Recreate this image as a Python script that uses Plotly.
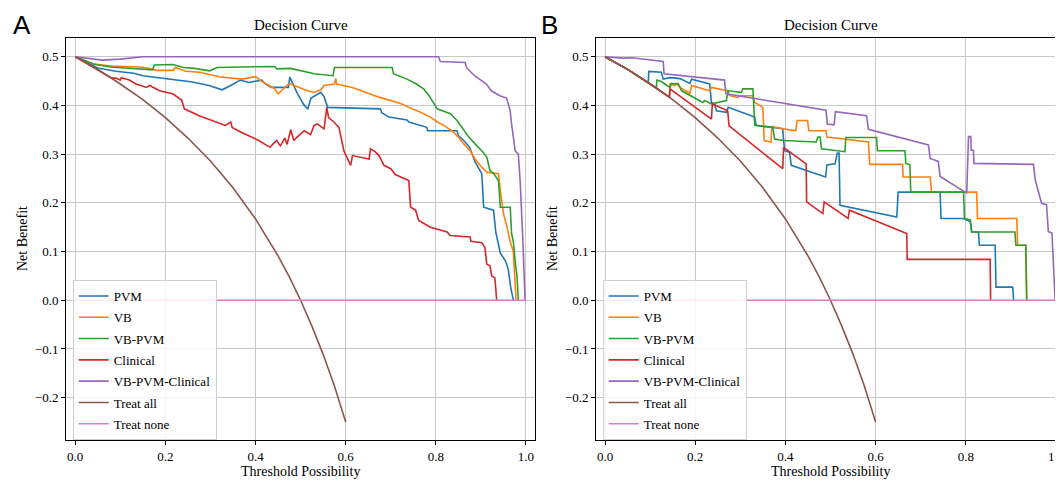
import plotly.graph_objects as go

# page body has an 8px margin: the figure is sized so that page pixels match the 1063x482 frame
OFF = 8
W, H = 1063 - OFF, 482 - OFF

names = ["PVM", "VB", "VB-PVM", "Clinical", "VB-PVM-Clinical", "Treat all", "Treat none"]
colors = ["#1f77b4", "#ff7f0e", "#2ca02c", "#d62728", "#9467bd", "#8c564b", "#e377c2"]

# ---- reference curves (same in both panels) ----
treat_all_x = [0.0, 0.05, 0.1, 0.15, 0.2, 0.25, 0.3, 0.35, 0.4, 0.425, 0.45, 0.475, 0.5, 0.525, 0.55, 0.575, 0.6]
treat_all_y = [0.5, 0.474, 0.444, 0.412, 0.375, 0.333, 0.286, 0.231, 0.167, 0.130, 0.091, 0.048, 0.0, -0.053, -0.111, -0.176, -0.25]
treat_none_x = [0.0, 1.0]
treat_none_y = [0.0, 0.0]

# ---- Panel A ----
a_pvm_x = [0, 0.05, 0.09, 0.13, 0.15, 0.19, 0.225, 0.26, 0.297, 0.326, 0.345, 0.366, 0.385, 0.414, 0.42, 0.435, 0.473, 0.476,
           0.485, 0.493, 0.508, 0.516, 0.523, 0.545, 0.552, 0.56, 0.677, 0.68, 0.696, 0.736, 0.74, 0.78, 0.782, 0.847, 0.85,
           0.862, 0.875, 0.887, 0.902, 0.906, 0.928, 0.933, 0.943, 0.955, 0.961, 0.966, 0.972]
a_pvm_y = [0.5, 0.477, 0.470, 0.466, 0.461, 0.456, 0.453, 0.448, 0.441, 0.432, 0.441, 0.452, 0.447, 0.452, 0.445, 0.437, 0.437, 0.458,
           0.440, 0.424, 0.400, 0.393, 0.415, 0.427, 0.418, 0.396, 0.393, 0.385, 0.376, 0.370, 0.366, 0.355, 0.348, 0.348, 0.338,
           0.328, 0.314, 0.284, 0.260, 0.191, 0.185, 0.140, 0.097, 0.080, 0.062, 0.027, 0.0]

a_vb_x = [0, 0.04, 0.08, 0.144, 0.17, 0.18, 0.217, 0.222, 0.245, 0.277, 0.319, 0.37, 0.40, 0.413, 0.443, 0.45, 0.455, 0.473,
          0.478, 0.515, 0.53, 0.545, 0.552, 0.575, 0.578, 0.58, 0.615, 0.674, 0.725, 0.74, 0.766, 0.788, 0.803, 0.818, 0.839,
          0.85, 0.862, 0.876, 0.887, 0.898, 0.913, 0.939, 0.943, 0.95, 0.958, 0.965, 0.972, 0.975, 0.978]
a_vb_y = [0.5, 0.485, 0.481, 0.479, 0.475, 0.472, 0.472, 0.478, 0.470, 0.468, 0.459, 0.454, 0.459, 0.450, 0.434, 0.424, 0.428, 0.444,
          0.444, 0.430, 0.427, 0.432, 0.441, 0.444, 0.455, 0.444, 0.437, 0.417, 0.403, 0.396, 0.386, 0.376, 0.366, 0.359, 0.345,
          0.335, 0.321, 0.307, 0.290, 0.277, 0.263, 0.260, 0.226, 0.178, 0.150, 0.120, 0.100, 0.040, 0.0]

a_vbpvm_x = [0, 0.04, 0.078, 0.13, 0.172, 0.175, 0.217, 0.24, 0.265, 0.298, 0.315, 0.443, 0.447, 0.478, 0.53, 0.572, 0.575,
             0.703, 0.706, 0.736, 0.755, 0.773, 0.785, 0.803, 0.832, 0.847, 0.862, 0.873, 0.887, 0.902, 0.913, 0.92, 0.928,
             0.939, 0.943, 0.965, 0.968, 0.972, 0.976, 0.98, 0.983]
a_vbpvm_y = [0.5, 0.485, 0.479, 0.476, 0.473, 0.483, 0.484, 0.478, 0.476, 0.471, 0.478, 0.480, 0.475, 0.476, 0.465, 0.461, 0.478,
             0.478, 0.465, 0.454, 0.445, 0.434, 0.420, 0.393, 0.383, 0.369, 0.348, 0.335, 0.321, 0.307, 0.294, 0.267, 0.260,
             0.246, 0.191, 0.191, 0.137, 0.120, 0.080, 0.050, 0.0]

a_clin_x = [0, 0.04, 0.081, 0.09, 0.1, 0.102, 0.12, 0.135, 0.15, 0.158, 0.165, 0.187, 0.216, 0.236, 0.242, 0.275, 0.333, 0.345,
            0.348, 0.368, 0.407, 0.432, 0.44, 0.447, 0.455, 0.465, 0.47, 0.478, 0.485, 0.49, 0.508, 0.522, 0.53, 0.537, 0.552,
            0.558, 0.562, 0.575, 0.585, 0.596, 0.611, 0.615, 0.652, 0.655, 0.665, 0.674, 0.685, 0.70, 0.71, 0.74, 0.744, 0.755,
            0.762, 0.775, 0.788, 0.825, 0.832, 0.876, 0.878, 0.902, 0.909, 0.913, 0.92, 0.924, 0.931, 0.935]
a_clin_y = [0.5, 0.479, 0.456, 0.456, 0.452, 0.457, 0.452, 0.444, 0.440, 0.437, 0.441, 0.430, 0.424, 0.411, 0.393, 0.379, 0.359, 0.366,
            0.355, 0.345, 0.328, 0.314, 0.322, 0.328, 0.317, 0.333, 0.320, 0.350, 0.328, 0.333, 0.348, 0.340, 0.359, 0.362, 0.352,
            0.396, 0.375, 0.365, 0.355, 0.307, 0.277, 0.297, 0.290, 0.311, 0.305, 0.297, 0.277, 0.270, 0.258, 0.246, 0.191, 0.185,
            0.164, 0.157, 0.150, 0.140, 0.133, 0.130, 0.121, 0.118, 0.108, 0.074, 0.071, 0.050, 0.046, 0.0]

a_all_x = [0, 0.03, 0.06, 0.1, 0.12, 0.15, 0.806, 0.81, 0.865, 0.868, 0.878, 0.886, 0.912, 0.923, 0.942, 0.957, 0.965, 0.968,
           0.976, 0.983, 0.987, 0.99, 0.993, 0.998]
a_all_y = [0.5, 0.497, 0.493, 0.495, 0.497, 0.5, 0.5, 0.490, 0.488, 0.478, 0.468, 0.461, 0.444, 0.430, 0.420, 0.415, 0.389, 0.362,
           0.307, 0.300, 0.246, 0.165, 0.124, 0.0]

# ---- Panel B ----
b_pvm_x = [0, 0.05, 0.096, 0.097, 0.125, 0.129, 0.144, 0.166, 0.188, 0.192, 0.232, 0.236, 0.243, 0.247, 0.269, 0.273, 0.332,
           0.335, 0.394, 0.398, 0.409, 0.413, 0.489, 0.492, 0.51, 0.515, 0.519, 0.521, 0.647, 0.65, 0.743, 0.745, 0.795, 0.81,
           0.813, 0.828, 0.83, 0.865, 0.867, 0.904, 0.906]
b_pvm_y = [0.5, 0.474, 0.447, 0.470, 0.468, 0.454, 0.457, 0.455, 0.445, 0.454, 0.444, 0.406, 0.403, 0.389, 0.386, 0.396, 0.376,
           0.359, 0.352, 0.307, 0.304, 0.277, 0.253, 0.278, 0.280, 0.302, 0.302, 0.195, 0.171, 0.222, 0.222, 0.168, 0.168, 0.161,
           0.140, 0.140, 0.113, 0.113, 0.027, 0.027, 0.0]

b_vb_x = [0, 0.05, 0.1, 0.143, 0.144, 0.155, 0.158, 0.166, 0.188, 0.192, 0.232, 0.236, 0.272, 0.276, 0.295, 0.297, 0.328, 0.332,
          0.35, 0.353, 0.368, 0.37, 0.394, 0.423, 0.426, 0.449, 0.452, 0.49, 0.492, 0.584, 0.587, 0.66, 0.661, 0.721, 0.724,
          0.824, 0.826, 0.913, 0.915, 0.933, 0.935]
b_vb_y = [0.5, 0.474, 0.444, 0.417, 0.444, 0.441, 0.445, 0.437, 0.425, 0.441, 0.430, 0.437, 0.430, 0.420, 0.416, 0.420, 0.420, 0.406,
          0.396, 0.328, 0.325, 0.357, 0.352, 0.348, 0.369, 0.369, 0.348, 0.348, 0.335, 0.325, 0.279, 0.279, 0.253, 0.253, 0.222,
          0.222, 0.168, 0.168, 0.113, 0.113, 0.0]

b_vbpvm_x = [0, 0.05, 0.114, 0.115, 0.125, 0.144, 0.147, 0.155, 0.162, 0.17, 0.217, 0.221, 0.236, 0.269, 0.273, 0.302, 0.306,
             0.328, 0.332, 0.372, 0.376, 0.396, 0.468, 0.472, 0.477, 0.48, 0.532, 0.534, 0.602, 0.604, 0.665, 0.667, 0.676,
             0.678, 0.795, 0.797, 0.81, 0.813, 0.909, 0.911, 0.933, 0.935]
b_vbpvm_y = [0.5, 0.474, 0.436, 0.452, 0.449, 0.437, 0.445, 0.444, 0.445, 0.430, 0.406, 0.410, 0.403, 0.410, 0.430, 0.427, 0.434,
             0.434, 0.359, 0.355, 0.331, 0.328, 0.325, 0.335, 0.335, 0.311, 0.305, 0.334, 0.334, 0.307, 0.307, 0.281, 0.278,
             0.222, 0.222, 0.168, 0.165, 0.140, 0.140, 0.113, 0.113, 0.0]

b_clin_x = [0, 0.05, 0.1, 0.143, 0.144, 0.236, 0.238, 0.269, 0.272, 0.275, 0.394, 0.396, 0.446, 0.447, 0.483, 0.486, 0.539,
            0.542, 0.669, 0.67, 0.854, 0.855]
b_clin_y = [0.5, 0.474, 0.444, 0.417, 0.434, 0.372, 0.403, 0.389, 0.389, 0.358, 0.270, 0.314, 0.280, 0.202, 0.178, 0.202, 0.168,
            0.185, 0.137, 0.084, 0.084, 0.0]

b_all_x = [0, 0.04, 0.06, 0.1, 0.129, 0.131, 0.188, 0.265, 0.268, 0.49, 0.493, 0.508, 0.511, 0.58, 0.584, 0.717, 0.721, 0.739,
           0.743, 0.802, 0.806, 0.811, 0.812, 0.817, 0.818, 0.95, 0.954, 0.961, 0.968, 0.979, 0.983, 0.991, 0.998]
b_all_y = [0.5, 0.497, 0.498, 0.494, 0.490, 0.465, 0.459, 0.452, 0.424, 0.390, 0.362, 0.360, 0.387, 0.379, 0.351, 0.319, 0.291, 0.285,
           0.254, 0.220, 0.336, 0.336, 0.308, 0.308, 0.281, 0.279, 0.247, 0.223, 0.199, 0.196, 0.141, 0.138, 0.0]

panels = {
    "A": [(a_pvm_x, a_pvm_y), (a_vb_x, a_vb_y), (a_vbpvm_x, a_vbpvm_y), (a_clin_x, a_clin_y), (a_all_x, a_all_y),
          (treat_all_x, treat_all_y), (treat_none_x, treat_none_y)],
    "B": [(b_pvm_x, b_pvm_y), (b_vb_x, b_vb_y), (b_vbpvm_x, b_vbpvm_y), (b_clin_x, b_clin_y), (b_all_x, b_all_y),
          (treat_all_x, treat_all_y), (treat_none_x, treat_none_y)],
}

fig = go.Figure()
for p, (xa, ya, leg) in zip(["A", "B"], [("x", "y", "legend"), ("x2", "y2", "legend2")]):
    for i, (xs, ys) in enumerate(panels[p]):
        fig.add_trace(go.Scatter(
            x=xs, y=ys, mode="lines", name=names[i],
            line=dict(color=colors[i], width=1.6),
            xaxis=xa, yaxis=ya, legend=leg, legendgroup=p + str(i),
            hoverinfo="skip"))

serif = "Liberation Serif, Times New Roman, serif"


def px_x(v):
    return (v - OFF) / W


def px_y(v):
    return 1 - (v - OFF) / H


ydom = [px_y(440.3), px_y(38.3)]
axis_common = dict(
    showgrid=True, gridcolor="#c8c8c8", gridwidth=1, zeroline=False,
    showline=True, linecolor="black", linewidth=1,
    ticks="outside", ticklen=4, tickwidth=1, tickcolor="black",
    tickfont=dict(family=serif, size=13, color="black"),
    ticklabeloverflow="allow",
)
xt = [0, 0.2, 0.4, 0.6, 0.8, 1.0]
xtt = ["0.0", "0.2", "0.4", "0.6", "0.8", "1.0"]
yt = [-0.2, -0.1, 0, 0.1, 0.2, 0.3, 0.4, 0.5]
ytt = ["\u22120.2", "\u22120.1", "0.0", "0.1", "0.2", "0.3", "0.4", "0.5"]
fig.update_layout(
    width=W, height=H, autosize=False,
    margin=dict(l=0, r=0, t=0, b=0),
    paper_bgcolor="white", plot_bgcolor="white",
    xaxis=dict(domain=[px_x(66), px_x(535)], range=[-0.0205, 1.02], tickvals=xt, ticktext=xtt,
               anchor="y", mirror=True, **axis_common),
    yaxis=dict(domain=ydom, range=[-0.2875, 0.5378], tickvals=yt, ticktext=ytt, anchor="x", mirror=True,
               **axis_common),
    xaxis2=dict(domain=[px_x(596), 1.0], range=[-0.02, 1.0155], tickvals=xt, ticktext=xtt,
                anchor="y2", mirror=True, **axis_common),
    yaxis2=dict(domain=ydom, range=[-0.2875, 0.5378], tickvals=yt, ticktext=ytt, anchor="x2", mirror=False,
                **axis_common),
    showlegend=True,
)
leg_common = dict(
    xanchor="left", yanchor="top", y=px_y(280),
    bgcolor="rgba(255,255,255,0.85)", bordercolor="#d0d0d0", borderwidth=1,
    font=dict(family=serif, size=13, color="black"),
    traceorder="grouped", tracegroupgap=1.4, itemwidth=30,
)
fig.update_layout(legend=dict(x=px_x(72.7), **leg_common), legend2=dict(x=px_x(602.7), **leg_common))

ann = []
for cx, frame_left, letter, lx in [(300.5, 66, "A", 21.7), (830.5, 596, "B", 549)]:
    ann.append(dict(text="Decision Curve", x=px_x(cx), y=px_y(25), xref="paper", yref="paper",
                    showarrow=False, xanchor="center", yanchor="middle", font=dict(family=serif, size=15, color="black")))
    ann.append(dict(text="Threshold Possibility", x=px_x(cx), y=px_y(471), xref="paper", yref="paper",
                    showarrow=False, xanchor="center", yanchor="middle", font=dict(family=serif, size=14, color="black")))
    ann.append(dict(text="Net Benefit", x=px_x(frame_left - 43), y=px_y(239), xref="paper", yref="paper",
                    textangle=-90, showarrow=False, xanchor="center", yanchor="middle",
                    font=dict(family=serif, size=14, color="black")))
    ann.append(dict(text=letter, x=px_x(lx), y=px_y(25), xref="paper", yref="paper", showarrow=False,
                    xanchor="center", yanchor="middle",
                    font=dict(family="Liberation Sans, Arial, sans-serif", size=26, color="black")))
fig.update_layout(annotations=ann)

fig.write_html("out.html")
